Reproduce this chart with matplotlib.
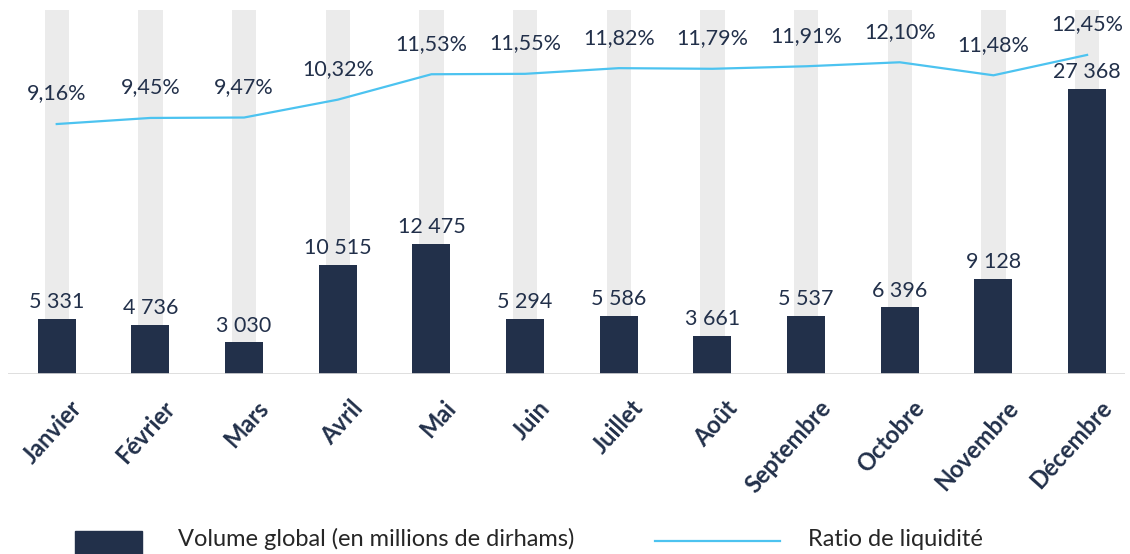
"""
Volume global et ratio de liquidité par mois
"""

import matplotlib as mpl
import matplotlib.pyplot as plt
from matplotlib.patches import Rectangle
from matplotlib.lines import Line2D

NAVY = '#22304a'
GREY_BAR = '#ebebeb'
LINE_BLUE = '#4cc3f0'
TEXT_DARK = '#262626'

mois = ['Janvier', 'Février', 'Mars', 'Avril', 'Mai', 'Juin', 'Juillet',
        'Août', 'Septembre', 'Octobre', 'Novembre', 'Décembre']
volume = [5331, 4736, 3030, 10515, 12475, 5294, 5586, 3661, 5537, 6396, 9128, 27368]
ratio = [9.16, 9.45, 9.47, 10.32, 11.53, 11.55, 11.82, 11.79, 11.91, 12.10, 11.48, 12.45]

mpl.rcParams.update({
    'font.family': ['Lato', 'DejaVu Sans'],
    'figure.facecolor': 'white',
    'axes.facecolor': 'none',
})


def fmt_volume(v):
    return f"{v:,}".replace(',', ' ')


def fmt_ratio(v):
    return f"{v:.2f}%".replace('.', ',')


fig = plt.figure(figsize=(11.3, 5.54), dpi=100)
ax = fig.add_axes([0.0071, 0.3249, 0.9885, 0.6571])
ax2 = ax.twinx()

x = list(range(len(mois)))
ymax = 35000

# fond gris derrière chaque barre
ax.bar(x, [ymax] * len(x), width=0.26, color=GREY_BAR, zorder=0)
bars = ax.bar(x, volume, width=0.405, color=NAVY, zorder=2)
ax.bar_label(bars, labels=[fmt_volume(v) for v in volume], padding=5,
             fontsize=15.5, color=NAVY)

ax.set_xlim(-0.52, 11.405)
ax.set_ylim(0, ymax)
ax.axhline(0, color='#d9d9d9', linewidth=1.2, zorder=3)

ax2.plot(x, ratio, color=LINE_BLUE, linewidth=1.6, zorder=4)
for xi, r in zip(x, ratio):
    ax2.annotate(fmt_ratio(r), (xi, r), xytext=(0, 22), textcoords='offset points',
                 ha='center', va='center', fontsize=15.5, color=NAVY)
ax2.set_ylim(-2.74, 14.59)

for a in (ax, ax2):
    for s in a.spines.values():
        s.set_visible(False)
    a.set_yticks([])

ax.set_xticks(x)
ax.set_xticklabels(mois, rotation=48, ha='right', rotation_mode='anchor',
                   fontsize=17, fontweight='bold', color=NAVY)
ax.tick_params(axis='x', length=0, pad=16)
for lbl in ax.get_xticklabels():
    lbl.set_transform(lbl.get_transform() +
                      mpl.transforms.ScaledTranslation(0.12, 0, fig.dpi_scale_trans))

# légende manuelle en bas
fig.patches.append(Rectangle((75 / 1130, 0), 67 / 1130, 23 / 554,
                             transform=fig.transFigure, color=NAVY))
fig.text(178 / 1130, 15 / 554, 'Volume global (en millions de dirhams)',
         fontsize=17, color=TEXT_DARK, va='center')
fig.lines.append(Line2D([655 / 1130, 780 / 1130], [13 / 554, 13 / 554],
                        transform=fig.transFigure, color=LINE_BLUE, linewidth=1.6))
fig.text(808 / 1130, 15 / 554, 'Ratio de liquidité',
         fontsize=17, color=TEXT_DARK, va='center')

fig.savefig('out.png', dpi=100)
